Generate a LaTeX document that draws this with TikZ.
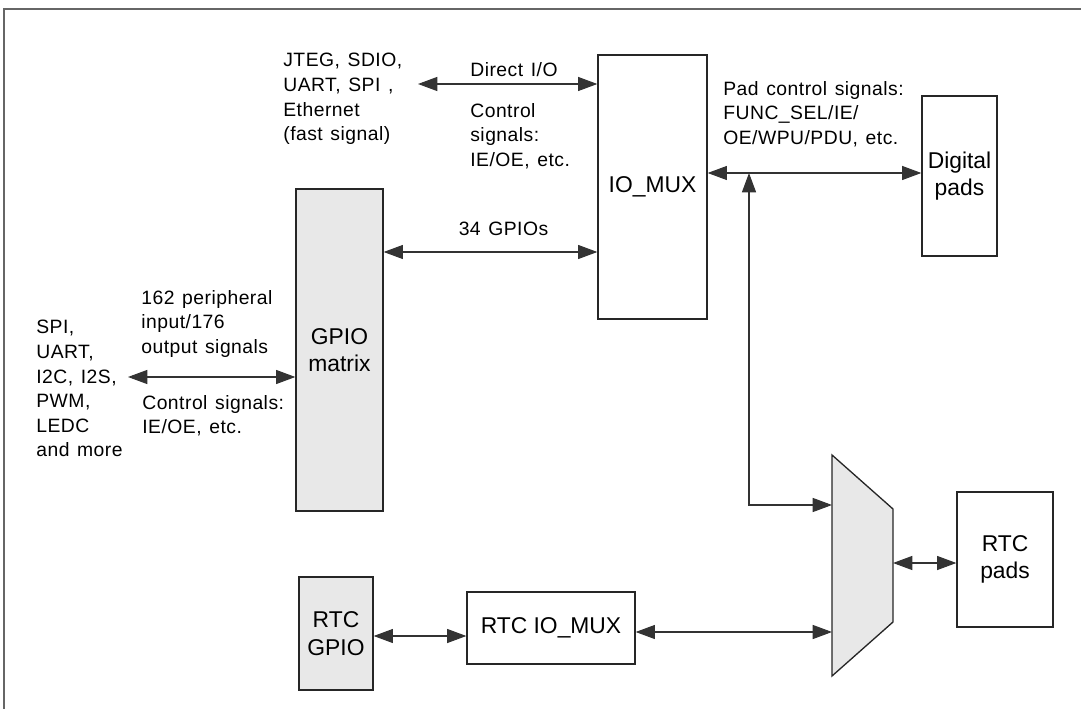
\documentclass[tikz,border=0pt]{standalone}
\usepackage{fontspec}
\setmainfont{Liberation Sans}
\newfontfamily\sigfont[LetterSpace=2.5,WordSpace=1.3]{Liberation Sans}
\usetikzlibrary{arrows.meta}

\begin{document}
\begin{tikzpicture}[x=0.02cm,y=-0.02cm,
  txt/.style={align=left,inner sep=0pt,anchor=north west,
    font=\sigfont\fontsize{11}{14}\selectfont},
  blk/.style={draw=black!85,line width=0.75pt,inner sep=0pt,align=center,
    font=\fontsize{13}{15.7}\selectfont},
  gblk/.style={blk,fill=black!9},
  sig/.style={draw=black!80,line width=0.6pt,
    {Triangle[length=11pt,width=8pt]}-{Triangle[length=11pt,width=8pt]}}]
\useasboundingbox (0,0) rectangle (1081,709);
\draw[black!60,line width=1pt] (1081,9) -- (4,9) -- (4,709);
% blocks
\node[blk,minimum width=2.18cm,minimum height=5.28cm] (iomux) at (652.5,187) {IO\_MUX};
\node[gblk,minimum width=1.74cm,minimum height=6.44cm] (gmx) at (339.5,350) {GPIO\\matrix};
\node[blk,minimum width=1.5cm,minimum height=3.2cm] (dpad) at (959.5,176) {Digital\\pads};
\node[blk,minimum width=1.92cm,minimum height=2.7cm] (rpad) at (1005,559.5) {RTC\\pads};
\node[gblk,minimum width=1.48cm,minimum height=2.26cm] (rgpio) at (336,633.5) {RTC\\GPIO};
\node[blk,minimum width=3.36cm,minimum height=1.44cm] (rmux) at (551,628) {RTC IO\_MUX};
% mux
\draw[black!85,line width=0.75pt,fill=black!9] (832,455) -- (893,509) -- (893,622) -- (832,676) -- cycle;
\coordinate (mux1) at (832,505);
\coordinate (mux2) at (832,632);
\coordinate (muxo) at (893,563);
% texts
\node[txt] (fast) at (283,53) {JTEG, SDIO,\\UART, SPI ,\\Ethernet\\(fast signal)};
\node[txt] (dio) at (470,62) {Direct I/O};
\node[txt] (ctl1) at (470,103) {Control\\signals:\\IE/OE, etc.};
\node[txt] (pad) at (723,81) {Pad control signals:\\FUNC\_SEL/IE/\\OE/WPU/PDU, etc.};
\node[txt,anchor=center] (gp) at (503.5,229) {34 GPIOs};
\node[txt] (per) at (36,320) {SPI,\\UART,\\I2C, I2S,\\PWM,\\LEDC\\and more};
\node[txt] (num) at (141,290) {162 peripheral\\input/176\\output signals};
\node[txt] (ctl2) at (142,395) {Control signals:\\IE/OE, etc.};
% connectors
\coordinate (jt) at (418,84);
\coordinate (pl) at (128,377);
\coordinate (tap) at (749,173);
\draw[sig] (jt) -- (jt -| iomux.west);
\draw[sig] (gmx.east |- 0,252) -- (iomux.west |- 0,252);
\draw[sig] (iomux.east |- tap) -- (dpad.west |- tap);
\draw[sig] (tap) |- (mux1);
\draw[sig] (pl) -- (pl -| gmx.west);
\draw[sig] (rgpio.east |- 0,636) -- (rmux.west |- 0,636);
\draw[sig] (rmux.east |- mux2) -- (mux2);
\draw[sig] (muxo) -- (rpad.west |- muxo);
\end{tikzpicture}
\end{document}
